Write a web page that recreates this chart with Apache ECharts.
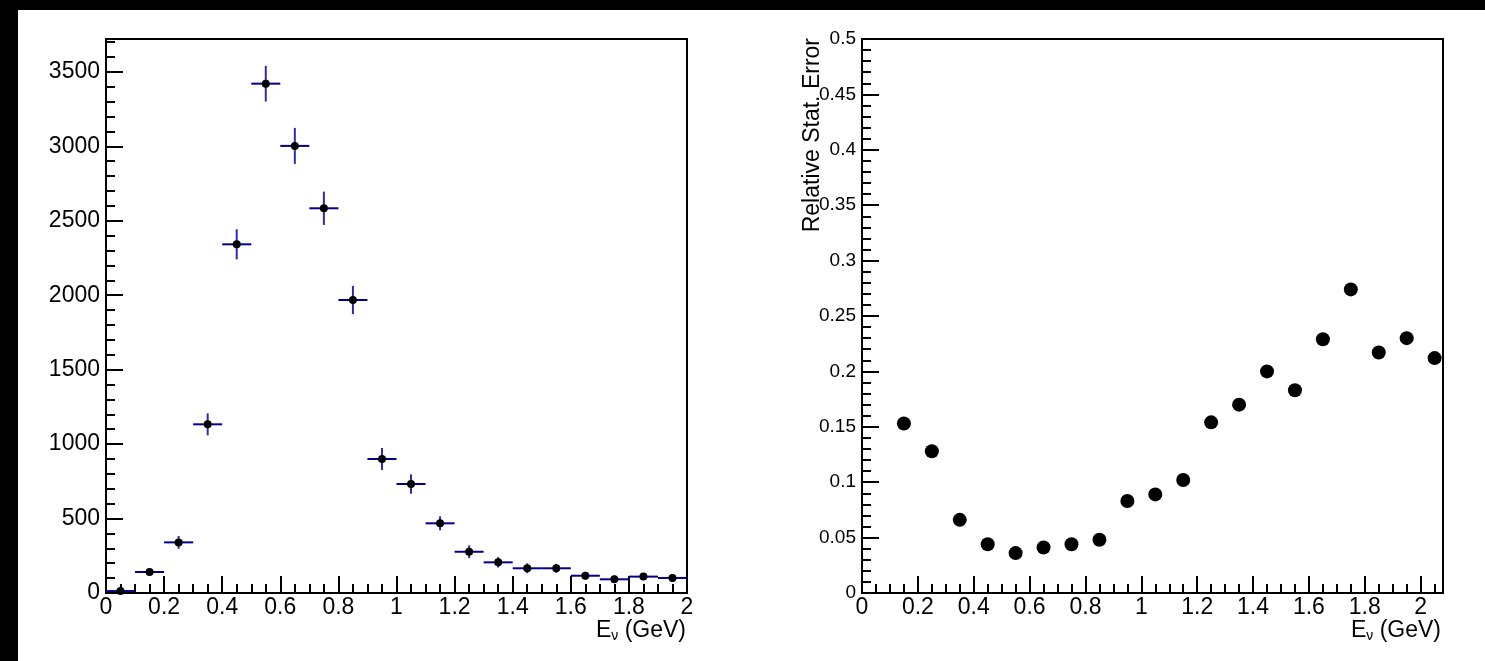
<!DOCTYPE html>
<html>
<head>
<meta charset="utf-8">
<script src="https://cdn.jsdelivr.net/npm/echarts@6/dist/echarts.min.js"></script>
<style>
html,body{margin:0;padding:0;background:#fff;}
#c{width:1485px;height:661px;}
</style>
</head>
<body>
<div id="c"></div>
<script>
// ---- data ----
const binCenters = [0.05,0.15,0.25,0.35,0.45,0.55,0.65,0.75,0.85,0.95,1.05,1.15,1.25,1.35,1.45,1.55,1.65,1.75,1.85,1.95];
const counts     = [13,141,340,1133,2342,3421,3003,2584,1968,900,732,468,277,206,166,166,116,92,110,101];
const countErrors= [8,21,43,74,101,120,121,112,95,74,65,47,43,35,33,30,26,25,24,23];
const binHalfWidth = 0.05;

const relErrCenters = [0.15,0.25,0.35,0.45,0.55,0.65,0.75,0.85,0.95,1.05,1.15,1.25,1.35,1.45,1.55,1.65,1.75,1.85,1.95,2.05];
const relErrors     = [0.153,0.128,0.066,0.044,0.036,0.041,0.044,0.048,0.083,0.089,0.102,0.154,0.170,0.200,0.183,0.229,0.274,0.217,0.230,0.212];

const leftX = {min:0, max:2, major:0.2, minor:0.05};
const leftY = {min:0, max:3721, major:500, minor:100};
const rightX = {min:0, max:2.08, major:0.2, minor:0.05};
const rightY = {min:0, max:0.5, major:0.05, minor:0.01};

const FONT = 'Liberation Sans, Arial, Helvetica, sans-serif';

const chart = echarts.init(document.getElementById('c'), null, {renderer:'canvas'});

const gL = {left:106, top:39, width:581, height:554};
const gR = {left:862, top:39, width:581, height:554};

function aligned(r){ return Math.abs(r.max/r.major - Math.round(r.max/r.major))<1e-9; }
function fmt(v){ return String(parseFloat(v.toFixed(6))); }

function mainX(gi, r){
  return {type:'value', gridIndex:gi, min:r.min, max:r.max, interval:r.major, position:'bottom',
    axisLine:{show:true, onZero:false, lineStyle:{color:'#000', width:2}},
    axisTick:{show:true, inside:true, length:17, lineStyle:{color:'#000', width:2}},
    axisLabel:{show:true, color:'#000', fontSize:23, fontFamily:FONT, margin:3, showMaxLabel: aligned(r), formatter:fmt},
    splitLine:{show:false}};
}
function mainY(gi, r, fs){
  return {type:'value', gridIndex:gi, min:r.min, max:r.max, interval:r.major, position:'left',
    axisLine:{show:true, onZero:false, lineStyle:{color:'#000', width:2}},
    axisTick:{show:true, inside:true, length:17, lineStyle:{color:'#000', width:2}},
    axisLabel:{show:true, color:'#000', fontSize:fs, fontFamily:FONT, margin:6, showMaxLabel: aligned(r), formatter:fmt},
    splitLine:{show:false}};
}
function minorX(gi, r){
  return {type:'value', gridIndex:gi, min:r.min, max:r.max, interval:r.minor, position:'bottom',
    axisLine:{show:false, onZero:false},
    axisTick:{show:true, inside:true, length:9, lineStyle:{color:'#000', width:2}},
    axisLabel:{show:false}, splitLine:{show:false}};
}
function minorY(gi, r){
  return {type:'value', gridIndex:gi, min:r.min, max:r.max, interval:r.minor, position:'left',
    axisLine:{show:false, onZero:false},
    axisTick:{show:true, inside:true, length:9, lineStyle:{color:'#000', width:2}},
    axisLabel:{show:false}, splitLine:{show:false}};
}

function errBar(params, api){
  const x = api.value(0), y = api.value(1), e = api.value(2);
  const h0 = api.coord([x - binHalfWidth, y]);
  const h1 = api.coord([x + binHalfWidth, y]);
  const v0 = api.coord([x, y - e]);
  const v1 = api.coord([x, y + e]);
  return {type:'group', children:[
    {type:'line', shape:{x1:h0[0], y1:h0[1], x2:h1[0], y2:h1[1]}, style:{stroke:'#000090', lineWidth:2}},
    {type:'line', shape:{x1:v0[0], y1:v0[1], x2:v1[0], y2:v1[1]}, style:{stroke:'#2b2bb3', lineWidth:2}}
  ]};
}

const histData = binCenters.map((x,i)=>[x, counts[i], countErrors[i]]);
const relData = relErrCenters.map((x,i)=>[x, relErrors[i]]);

const titleRich = {a:{fontSize:23, fontFamily:FONT, fill:'#000'}, b:{fontSize:14, fontFamily:FONT, fill:'#000', padding:[10,0,0,0]}};

const option = {
  animation:false,
  backgroundColor:'#fff',
  grid:[
    Object.assign({show:true, borderColor:'#000', borderWidth:2, backgroundColor:'transparent'}, gL),
    Object.assign({show:false}, gL),
    Object.assign({show:true, borderColor:'#000', borderWidth:2, backgroundColor:'transparent'}, gR),
    Object.assign({show:false}, gR)
  ],
  xAxis:[ mainX(0,leftX), minorX(1,leftX), mainX(2,rightX), minorX(3,rightX) ],
  yAxis:[ mainY(0,leftY,23), minorY(1,leftY), mainY(2,rightY,19), minorY(3,rightY) ],
  series:[
    {type:'custom', xAxisIndex:0, yAxisIndex:0, data:histData, renderItem:errBar, clip:true,
      encode:{x:0, y:1}, z:2},
    {type:'scatter', xAxisIndex:0, yAxisIndex:0, data:histData.map(d=>[d[0],d[1]]), symbol:'circle', symbolSize:8,
      itemStyle:{color:'#000', opacity:1}, z:3, silent:true},
    {type:'scatter', xAxisIndex:2, yAxisIndex:2, data:relData, symbol:'circle', symbolSize:14,
      itemStyle:{color:'#000', opacity:1}, z:3, silent:true}
  ],
  graphic:[
    {type:'rect', shape:{x:0, y:0, width:18, height:661}, style:{fill:'#000'}, z:100},
    {type:'rect', shape:{x:0, y:0, width:1485, height:10}, style:{fill:'#000'}, z:100},
    {type:'text', x:686, y:631, style:{text:'{a|E}{b|ν}{a| (GeV)}', align:'right', verticalAlign:'middle', rich:titleRich}, z:50},
    {type:'text', x:1441, y:631, style:{text:'{a|E}{b|ν}{a| (GeV)}', align:'right', verticalAlign:'middle', rich:titleRich}, z:50},
    {type:'text', x:813, y:38, rotation:Math.PI/2, style:{text:'Relative Stat. Error', align:'right', verticalAlign:'middle',
      fontSize:23, fontFamily:FONT, fill:'#000'}, z:50}
  ]
};
chart.setOption(option);
</script>
</body>
</html>
